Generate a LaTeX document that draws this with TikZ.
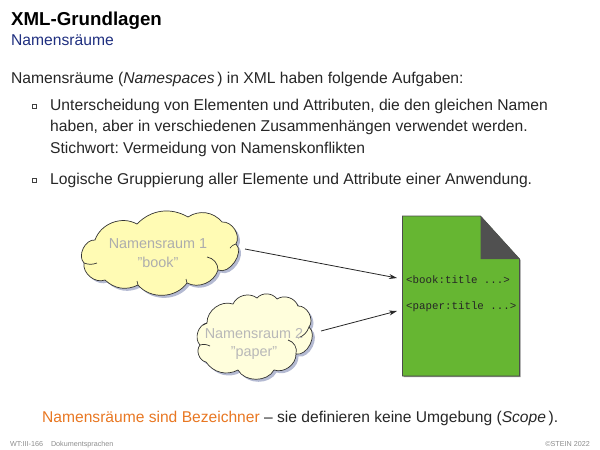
\documentclass[tikz,border=0pt]{standalone}
\usepackage{fontspec}
\setmainfont{Liberation Sans}
\setmonofont{Liberation Mono}
\usetikzlibrary{arrows.meta}
\frenchspacing
\definecolor{navy}{HTML}{1F2F7F}
\definecolor{orng}{HTML}{E87722}
\definecolor{grn}{HTML}{66B632}
\definecolor{shad}{HTML}{B4BAD2}
\definecolor{dark}{HTML}{505050}
\definecolor{cloudA}{HTML}{FFFBB4}
\definecolor{cloudB}{HTML}{FFFEDC}
\newcommand\fsz[1]{\fontsize{#1}{#1}\selectfont}
\newcommand\cloudOne{(95,240) to[bend left=50] (137,224) to[bend left=38] (188,217) to[bend left=42] (222,222) to[bend left=62] (236,244) to[bend left=80] (218,270) to[bend left=50] (187,283) to[bend left=52] (138,285) to[bend left=35] (105,280) to[bend left=60] (84,263) to[bend left=70] (95,240) -- cycle}
\newcommand\cloudOneCurl{(236,244) to[bend right=20] (230,248) (207,257) to[bend left=40] (218,270) (187,283) to[bend left=25] (186,279) (138,285) to[bend left=20] (137,281) (97,263) to[bend left=20] (84,263)}
\newcommand\cloudTwo{(207,323) to[bend left=55] (233,304) to[bend left=52] (257,298) to[bend left=52] (277,299) to[bend left=52] (298,306) to[bend left=66] (309,327) to[bend left=76] (296,354) to[bend left=55] (274,370) to[bend left=62] (238,370) to[bend left=42] (206,362) to[bend left=60] (200,345) to[bend left=62] (207,323) -- cycle}
\newcommand\cloudTwoCurl{(207,323) to[bend left=15] (203,325) (309,327) to[bend left=25] (298,338) (288,340) to[bend left=45] (296,354) (200,345) to[bend left=20] (210,346)}
\tikzset{
  body/.style={anchor=base west,inner sep=0pt,text=black!85,font=\fsz{15.65}},
  bul/.style={anchor=center,draw=black!75,fill=white,line width=.8pt,minimum size=4pt,inner sep=0pt},
  cloudtext/.style={align=center,inner sep=0pt,font=\fsz{14.4},text=black!32},
  xmlcode/.style={anchor=base west,inner sep=0pt,font=\ttfamily\fsz{10.8},text=black!85},
  link/.style={draw=black!85,line width=.8pt,-{Stealth[length=8pt,width=5pt]}},
  foot/.style={inner sep=0pt,font=\fsz{7.2},text=black!45}
}
\begin{document}
\begin{tikzpicture}[x=1pt,y=-1pt]
\useasboundingbox (0,0) rectangle (600,450);
\node[body,font=\bfseries\fsz{18.7},text=black] (title) at (11,25) {XML-Grundlagen};
\node[body,text=navy] (sub) at (11,45.5) {Namensräume};
\node[body] (intro) at (11,83) {Namensräume (\textit{Namespaces}\,) in XML haben folgende Aufgaben:};
\node[bul] (b1) at (34,106) {};
\node[body] (l1) at (50,110) {Unterscheidung von Elementen und Attributen, die den gleichen Namen};
\node[body] (l2) at (50,131) {haben, aber in verschiedenen Zusammenhängen verwendet werden.};
\node[body] (l3) at (50,153) {Stichwort: Vermeidung von Namenskonflikten};
\node[bul] (b2) at (34,180) {};
\node[body] (l4) at (50,184) {Logische Gruppierung aller Elemente und Attribute einer Anwendung.};

% clouds
\fill[shad] [shift={(2.5,2.5)}] \cloudOne;
\filldraw[fill=cloudA,draw=black!80,line width=.7pt] \cloudOne;
\draw[black!80,line width=.7pt] \cloudOneCurl;
\node[cloudtext] (c1) at (158,253) {Namensraum 1\\[4pt]"book"};
\fill[shad] [shift={(2.5,2.5)}] \cloudTwo;
\filldraw[fill=cloudB,draw=black!80,line width=.7pt] \cloudTwo;
\draw[black!80,line width=.7pt] \cloudTwoCurl;
\node[cloudtext,text=black!28] (c2) at (254,344) {Namensraum 2\\[4pt]"paper"};

% document
\coordinate (tl) at (402.5,216);
\coordinate (tr) at (480.5,216);
\coordinate (fr) at (519.5,259);
\coordinate (fc) at (480.5,259);
\coordinate (br) at (519.5,376);
\coordinate (bl) at (402.5,376);
\fill[black!45] ([shift={(1,1)}]tl) -- ([shift={(1,1)}]tr) -- ([shift={(1,1)}]fr) -- ([shift={(1,1)}]br) -- ([shift={(1,1)}]bl) -- cycle;
\filldraw[fill=grn,draw=black!70,line width=.7pt] (tl) -- (tr) -- (fr) -- (br) -- (bl) -- cycle;
\fill[dark] (tr) -- (fr) -- (fc) -- cycle;
\node[xmlcode] (x1) at (406,283) {<book:title ...>};
\node[xmlcode] (x2) at (406,309) {<paper:title ...>};

% connectors
\coordinate (a1s) at (245,249);
\coordinate (a1e) at (397,278);
\coordinate (a2s) at (321,331);
\coordinate (a2e) at (397,311);
\draw[link] (a1s) -- (a1e);
\draw[link] (a2s) -- (a2e);

\node[anchor=base west,inner sep=0pt,font=\fsz{15.6}] (concl) at (42,422) {\textcolor{orng}{Namensräume sind Bezeichner} \textcolor{black!85}{– sie definieren keine Umgebung (\textit{Scope}\,).}};
\node[foot,anchor=base west] (f1) at (10,446) {WT:III-166\hspace{8pt}Dokumentsprachen};
\node[foot,anchor=base east] (f2) at (590,446) {©STEIN 2022};
\end{tikzpicture}
\end{document}
